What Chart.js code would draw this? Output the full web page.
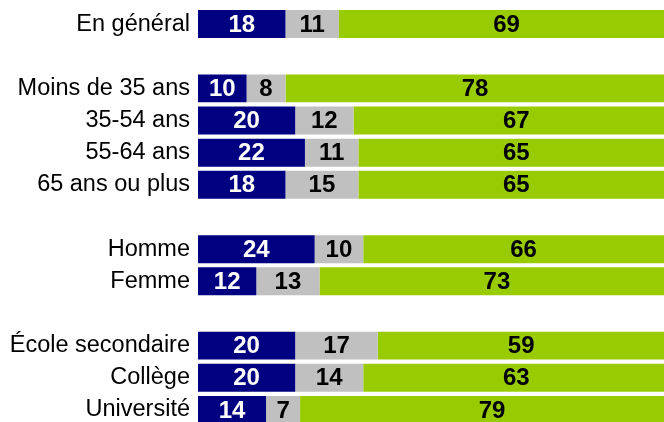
<!DOCTYPE html>
<html lang="fr">
<head>
<meta charset="utf-8">
<title>Répartition</title>
<script src="https://cdn.jsdelivr.net/npm/chart.js@4"></script>
<style>
    html, body {
        margin: 0;
        padding: 0;
        overflow: hidden;
        background: #fff;
    }
    #wrap {
        position: relative;
        width: 684px;
        height: 430px;
    }
</style>
</head>
<body>
<div id="wrap"><canvas id="chart"></canvas></div>
<script>
// rows, blank strings are the gaps between groups
const categories = [
    'En général', '',
    'Moins de 35 ans', '35-54 ans', '55-64 ans', '65 ans ou plus', '',
    'Homme', 'Femme', '',
    'École secondaire', 'Collège', 'Université'
];
const blueValues  = [18, null, 10, 20, 22, 18, null, 24, 12, null, 20, 20, 14];
const greyValues  = [11, null, 8, 12, 11, 15, null, 10, 13, null, 17, 14, 7];
const greenValues = [69, null, 78, 67, 65, 65, null, 66, 73, null, 59, 63, 79];

const colors = {
    blue: '#000080',
    grey: '#C0C0C0',
    green: '#99CC00'
};

/**
 * Draw the value in the middle of each bar segment
 */
const valueLabels = {
    id: 'valueLabels',
    afterDatasetsDraw(chart) {
        const ctx = chart.ctx;
        ctx.save();
        ctx.font = 'bold 24px "Liberation Sans", Arial, sans-serif';
        ctx.textAlign = 'center';
        ctx.textBaseline = 'middle';
        chart.data.datasets.forEach((dataset, i) => {
            const meta = chart.getDatasetMeta(i);
            meta.data.forEach((bar, j) => {
                const value = dataset.data[j];
                if (value === null || value === undefined) {
                    return;
                }
                ctx.fillStyle = dataset.labelColor;
                ctx.fillText(String(value), (bar.x + bar.base) / 2, bar.y + 1);
            });
        });
        ctx.restore();
    }
};

const ctx = document.getElementById('chart').getContext('2d');

new Chart(ctx, {
    type: 'bar',
    data: {
        labels: categories,
        datasets: [
            { data: blueValues, backgroundColor: colors.blue, labelColor: '#ffffff' },
            { data: greyValues, backgroundColor: colors.grey, labelColor: '#000000' },
            { data: greenValues, backgroundColor: colors.green, labelColor: '#000000' }
        ]
    },
    options: {
        indexAxis: 'y',
        responsive: true,
        maintainAspectRatio: false,
        animation: false,
        layout: {
            padding: { top: 8, bottom: 4, left: 0, right: 0 }
        },
        datasets: {
            bar: {
                barPercentage: 0.87,
                categoryPercentage: 1,
                borderWidth: 0
            }
        },
        scales: {
            x: {
                display: false,
                stacked: true,
                min: 0,
                max: 100
            },
            y: {
                stacked: true,
                border: { display: false },
                grid: { display: false, drawTicks: false },
                ticks: {
                    color: '#000000',
                    padding: 8,
                    autoSkip: false,
                    font: { family: '"Liberation Sans", Arial, sans-serif', size: 23.5 }
                },
                afterFit(scale) {
                    scale.width = 198;
                    scale.paddingTop = 0;
                    scale.paddingBottom = 0;
                }
            }
        },
        plugins: {
            legend: { display: false },
            tooltip: { enabled: false }
        }
    },
    plugins: [valueLabels]
});
</script>
</body>
</html>
